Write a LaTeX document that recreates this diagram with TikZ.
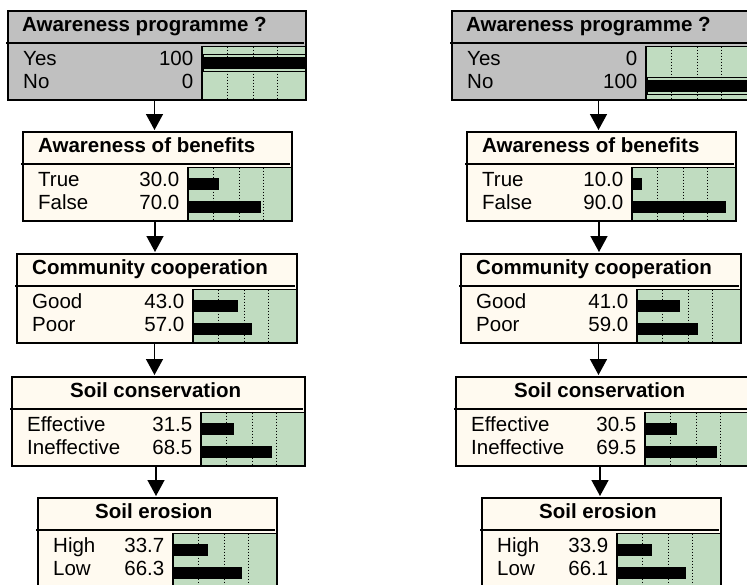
\documentclass[tikz,border=0pt]{standalone}
\usepackage{fontspec}
\setmainfont{Liberation Sans}
\usepackage{xcolor}
\usepackage{tikz}
\usetikzlibrary{arrows.meta, calc}
\definecolor{netgray}{HTML}{C0C0C0}
\definecolor{netcream}{HTML}{FFFAF0}
\definecolor{netgreen}{HTML}{C0DCC0}

\tikzset{
  boxline/.style={line width=1.5pt},
  gridline/.style={line width=1.2pt, dash pattern=on 1.5pt off 1.5pt},
  flow/.style={line width=1.5pt, -{Triangle[width=17pt,length=16pt]}, shorten >=2pt},
  titletext/.style={inner sep=0pt, anchor=base west,
                    font=\fontsize{20.5}{24}\selectfont\bfseries},
  statetext/.style={inner sep=0pt, font=\fontsize{20.5}{24}\selectfont},
}

% #1 name, #2 left, #3 top, #4 right, #5 fill, #6 title indent, #7 title, #8 states
\newcommand{\netbox}[8]{%
  \filldraw[boxline, fill=#5] (#2,#3) rectangle (#4,#3+89);
  \draw[boxline] (#2-2,#3+32) -- (#4-2,#3+32);
  \filldraw[boxline, fill=netgreen] (#4-104,#3+35.5) rectangle (#4,#3+89);
  \foreach \gx in {25.5,51.5,75.5}
    \draw[gridline] (#4-104+\gx,#3+35.5) -- (#4-104+\gx,#3+89);
  \node[titletext] (#1) at (#2+#6,#3+20.5) {#7};
  \coordinate (#1-top) at ({(#2+#4)/2-2.5},#3);
  \coordinate (#1-bot) at ({(#2+#4)/2-2.5},#3+89);
  \foreach \lab/\val/\pct [count=\row] in {#8} {
    \node[statetext, anchor=base west] (#1-l\row) at (#2+15,#3+31.5+23*\row) {\lab};
    \node[statetext, anchor=base east] (#1-v\row) at (#4-112.5,#3+31.5+23*\row) {\val};
    \ifdim\pct pt>99pt
      \draw[line width=1pt] (#4-103,#3+20.5+23*\row) rectangle (#4,#3+37+23*\row);
      \fill (#4-103,#3+23+23*\row) rectangle (#4,#3+35+23*\row);
    \else\ifdim\pct pt>0pt
      \fill (#4-104,#3+22.5+23*\row) rectangle (#4-104+1.04*\pct,#3+34.5+23*\row);
    \fi\fi
  }
}

\begin{document}
\begin{tikzpicture}[x=1pt, y=-1pt]
  \useasboundingbox (0,0) rectangle (747,584);
  \clip (0,0) rectangle (747,584);

  % with programme
  \netbox{L1}{8}{11}{306}{netgray}{14}{Awareness programme ?}{Yes/100/100, No/0/0}
  \netbox{L2}{23}{132}{292}{netcream}{15}{Awareness of benefits}{True/30.0/30, False/70.0/70}
  \netbox{L3}{17}{254}{297}{netcream}{15}{Community cooperation}{Good/43.0/43, Poor/57.0/57}
  \netbox{L4}{12}{377}{305}{netcream}{58}{Soil conservation}{Effective/31.5/31.5, Ineffective/68.5/68.5}
  \netbox{L5}{38}{498}{277}{netcream}{57}{Soil erosion}{High/33.7/33.7, Low/66.3/66.3}
  \foreach \src/\dst in {L1/L2, L2/L3, L3/L4, L4/L5}
    \draw[flow] (\src-bot) -- (\src-bot |- \dst-top);

  % without programme
  \begin{scope}[xshift=444pt]
    \netbox{R1}{8}{11}{306}{netgray}{14}{Awareness programme ?}{Yes/0/0, No/100/100}
    \netbox{R2}{23}{132}{292}{netcream}{15}{Awareness of benefits}{True/10.0/10, False/90.0/90}
    \netbox{R3}{17}{254}{297}{netcream}{15}{Community cooperation}{Good/41.0/41, Poor/59.0/59}
    \netbox{R4}{12}{377}{305}{netcream}{58}{Soil conservation}{Effective/30.5/30.5, Ineffective/69.5/69.5}
    \netbox{R5}{38}{498}{277}{netcream}{57}{Soil erosion}{High/33.9/33.9, Low/66.1/66.1}
    \foreach \src/\dst in {R1/R2, R2/R3, R3/R4, R4/R5}
      \draw[flow] (\src-bot) -- (\src-bot |- \dst-top);
  \end{scope}
\end{tikzpicture}
\end{document}
